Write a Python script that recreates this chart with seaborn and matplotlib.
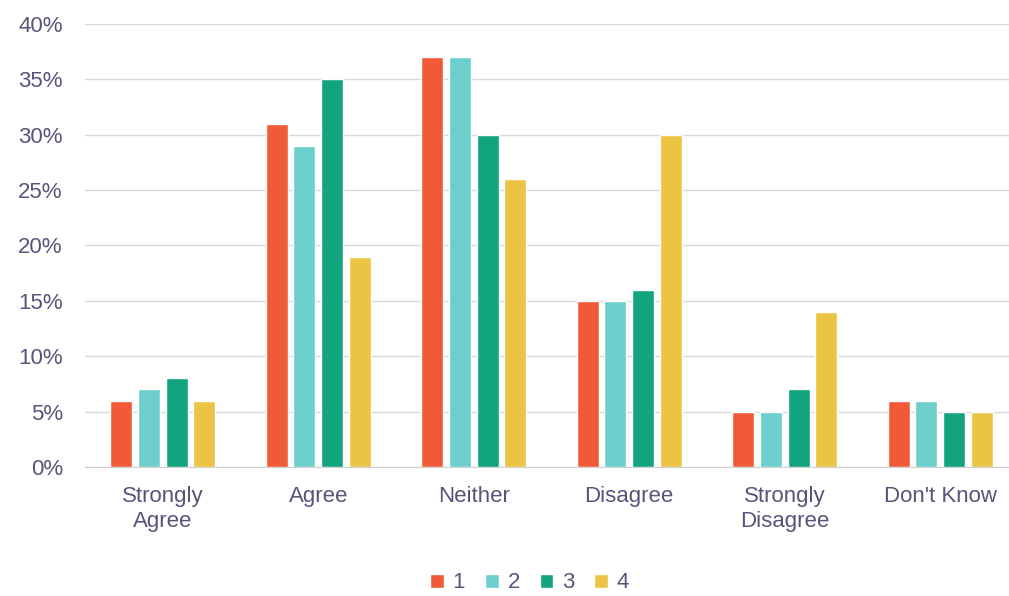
import pandas as pd
import matplotlib
matplotlib.use("Agg")
import matplotlib.pyplot as plt
import seaborn as sns
from matplotlib.ticker import PercentFormatter

categories = ["Strongly\nAgree", "Agree", "Neither", "Disagree", "Strongly\nDisagree", "Don't Know"]
series_names = ["1", "2", "3", "4"]
s1 = [6, 31, 37, 15, 5, 6]
s2 = [7, 29, 37, 15, 5, 6]
s3 = [8, 35, 30, 16, 7, 5]
s4 = [6, 19, 26, 30, 14, 5]
colors = ["#F05A36", "#6DCFCB", "#12A37F", "#EBC444"]

rows = []
for name, vals in zip(series_names, [s1, s2, s3, s4]):
    for cat, v in zip(categories, vals):
        rows.append({"category": cat, "series": name, "value": v})
df = pd.DataFrame(rows)

sns.set_style("white")
plt.rcParams["font.family"] = ["Liberation Sans", "DejaVu Sans"]
text_color = "#55557A"

fig = plt.figure(figsize=(10.09, 5.96), dpi=100)
ax = fig.add_axes([85 / 1009, 1 - 467 / 596, 933 / 1009, (467 - 24) / 596])

sns.barplot(data=df, x="category", y="value", hue="series", order=categories,
            hue_order=series_names, palette=colors, width=0.71, gap=0.2,
            saturation=1, ax=ax, zorder=3)

ax.set_ylim(0, 40)
ax.set_yticks(range(0, 41, 5))
ax.yaxis.set_major_formatter(PercentFormatter(decimals=0))
ax.grid(axis="y", color="#D9D9D9", linewidth=1, zorder=0)
ax.set_axisbelow(True)
for side in ["top", "right", "left"]:
    ax.spines[side].set_visible(False)
ax.spines["bottom"].set_color("#D0D0D0")
ax.tick_params(axis="both", length=0, labelsize=16, colors=text_color)
ax.tick_params(axis="x", pad=14)
ax.tick_params(axis="y", pad=16)
ax.set_xlabel("")
ax.set_ylabel("")

handles, labels = ax.get_legend_handles_labels()
ax.get_legend().remove()
fig.legend(handles, labels, loc="center", bbox_to_anchor=(0.525, 1 - 583 / 596),
           ncol=4, frameon=False, fontsize=16, labelcolor=text_color,
           handlelength=0.6, handleheight=0.6, handletextpad=0.4, columnspacing=0.9)

fig.savefig("out.png", dpi=100)
